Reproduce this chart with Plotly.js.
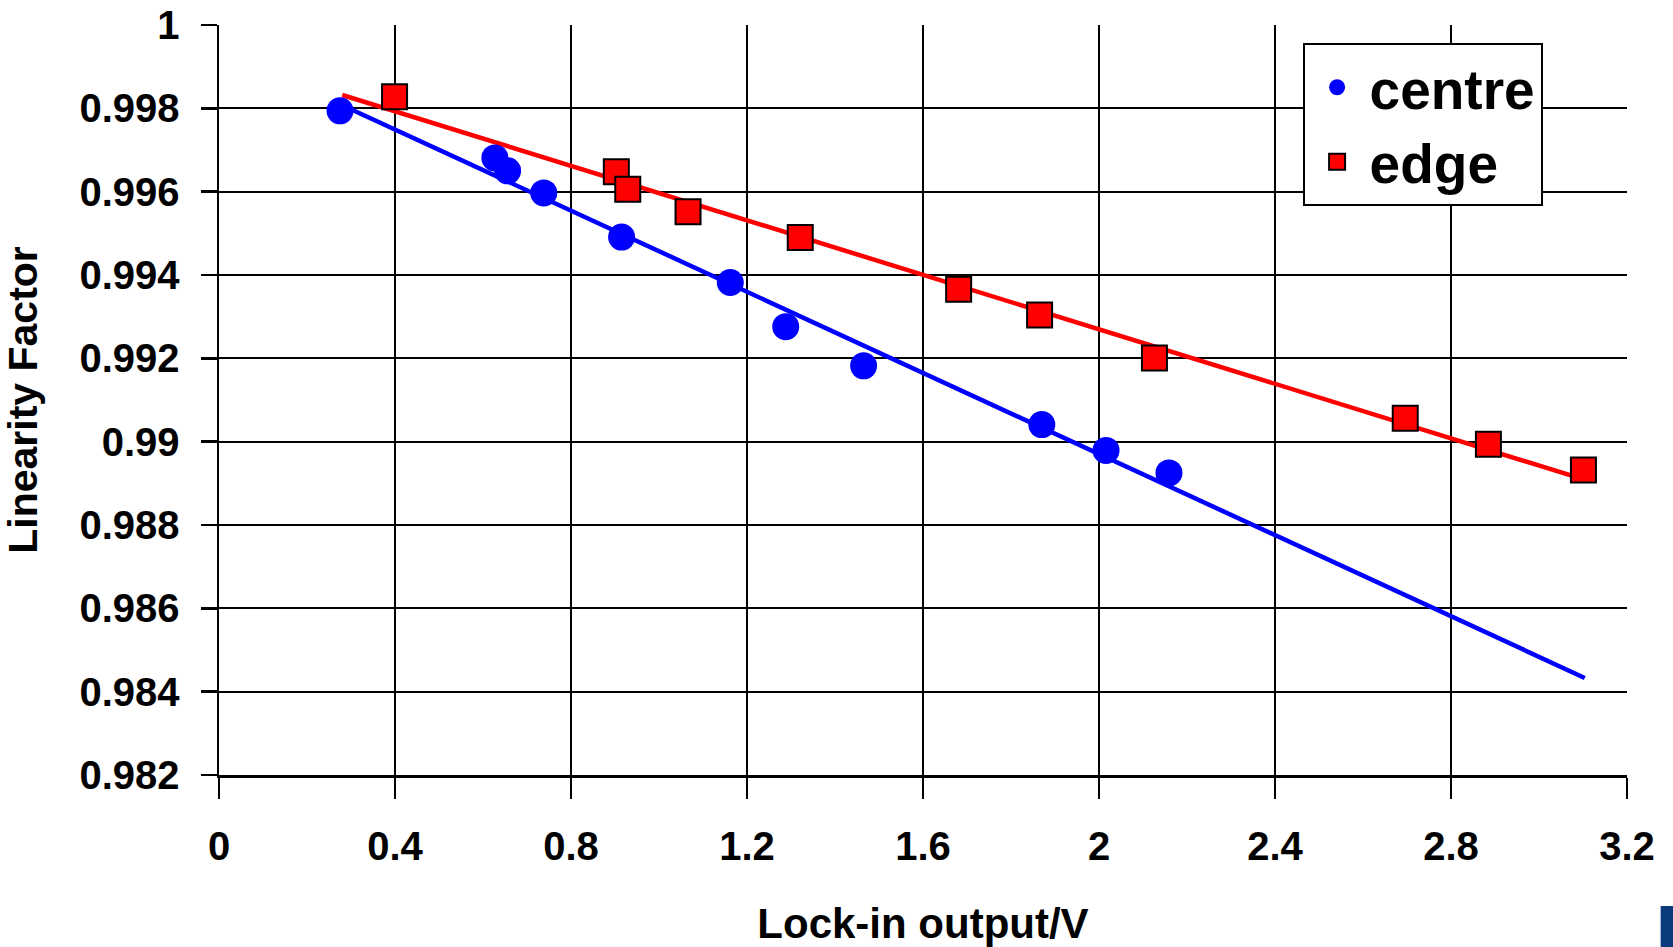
<!DOCTYPE html>
<html>
<head>
<meta charset="utf-8">
<script src="https://cdn.plot.ly/plotly-3.0.1.min.js"></script>
<style>
html,body{margin:0;padding:0;background:#fff;}
#chart{width:1673px;height:947px;}
</style>
</head>
<body>
<div id="chart"></div>
<script>
// Data
const centreX = [0.275, 0.627, 0.656, 0.738, 0.915, 1.162, 1.288, 1.465, 1.870, 2.016, 2.159];
const centreY = [0.99794, 0.99681, 0.99650, 0.99597, 0.99491, 0.99382, 0.99276, 0.99182, 0.99041, 0.98979, 0.98925];
const edgeX = [0.399, 0.903, 0.929, 1.066, 1.321, 1.681, 1.865, 2.126, 2.696, 2.885, 3.101];
const edgeY = [0.99828, 0.99648, 0.99606, 0.99552, 0.99490, 0.99366, 0.99304, 0.99201, 0.99056, 0.98994, 0.98932];
// Linear fit lines (endpoints as drawn)
const centreFitX = [0.275, 3.104];
const centreFitY = [0.99810, 0.98433];
const edgeFitX = [0.280, 3.100];
const edgeFitY = [0.99832, 0.98910];
// Tick labels
const xTickVals = [0, 0.4, 0.8, 1.2, 1.6, 2, 2.4, 2.8, 3.2];
const xTickText = ["0", "0.4", "0.8", "1.2", "1.6", "2", "2.4", "2.8", "3.2"];
const yTickVals = [0.982, 0.984, 0.986, 0.988, 0.99, 0.992, 0.994, 0.996, 0.998, 1];
const yTickText = ["0.982", "0.984", "0.986", "0.988", "0.99", "0.992", "0.994", "0.996", "0.998", "1"];

const FONT = "Liberation Sans, Arial, Helvetica, sans-serif";

const traces = [
  {x: centreFitX, y: centreFitY, mode: "lines", line: {color: "#0000ff", width: 4.5},
   showlegend: false, hoverinfo: "skip"},
  {x: edgeFitX, y: edgeFitY, mode: "lines", line: {color: "#ff0000", width: 4.5},
   showlegend: false, hoverinfo: "skip"},
  {x: centreX, y: centreY, mode: "markers", name: "centre",
   marker: {symbol: "circle", size: 27, color: "#0000ff", line: {width: 0}}},
  {x: edgeX, y: edgeY, mode: "markers", name: "edge",
   marker: {symbol: "square", size: 25, color: "#ff0000", line: {color: "#000000", width: 2}}}
];

const layout = {
  width: 1673, height: 947,
  margin: {l: 219, r: 46, t: 25, b: 172, autoexpand: false},
  paper_bgcolor: "#ffffff", plot_bgcolor: "#ffffff",
  font: {family: FONT, color: "#000000"},
  showlegend: true,
  legend: {
    x: 0.7696, y: 0.976, xanchor: "left", yanchor: "top",
    bgcolor: "#ffffff", bordercolor: "#000000", borderwidth: 2,
    font: {family: FONT, size: 55, color: "#000000", weight: "bold"},
    itemwidth: 55, tracegroupgap: 0
  },
  xaxis: {
    range: [0, 3.2], tickmode: "array", tickvals: xTickVals, ticktext: xTickText,
    showgrid: true, gridcolor: "#000000", gridwidth: 2,
    showline: true, linecolor: "#000000", linewidth: 2.5,
    ticks: "outside", ticklen: 21, tickwidth: 2.5, tickcolor: "#000000",
    ticklabelstandoff: 13,
    tickfont: {family: FONT, size: 40, color: "#000000", weight: "bold"},
    zeroline: false, mirror: false, fixedrange: true,
    title: {text: "Lock-in output/V", standoff: 44,
            font: {family: FONT, size: 42, color: "#000000", weight: "bold"}}
  },
  yaxis: {
    range: [0.982, 1], tickmode: "array", tickvals: yTickVals, ticktext: yTickText,
    showgrid: true, gridcolor: "#000000", gridwidth: 2,
    showline: true, linecolor: "#000000", linewidth: 2.5,
    ticks: "outside", ticklen: 16, tickwidth: 2.5, tickcolor: "#000000",
    ticklabelstandoff: 13,
    tickfont: {family: FONT, size: 40, color: "#000000", weight: "bold"},
    zeroline: false, fixedrange: true,
    title: {text: "Linearity Factor", standoff: 33,
            font: {family: FONT, size: 41, color: "#000000", weight: "bold"}}
  },
  shapes: [
    {type: "rect", xref: "paper", yref: "paper", x0: 1.0239, x1: 1.04, y0: -0.1747, y1: -0.24,
     fillcolor: "#0b3a7d", line: {width: 0}, layer: "above"}
  ]
};

Plotly.newPlot("chart", traces, layout, {displayModeBar: false, staticPlot: true});
</script>
</body>
</html>
